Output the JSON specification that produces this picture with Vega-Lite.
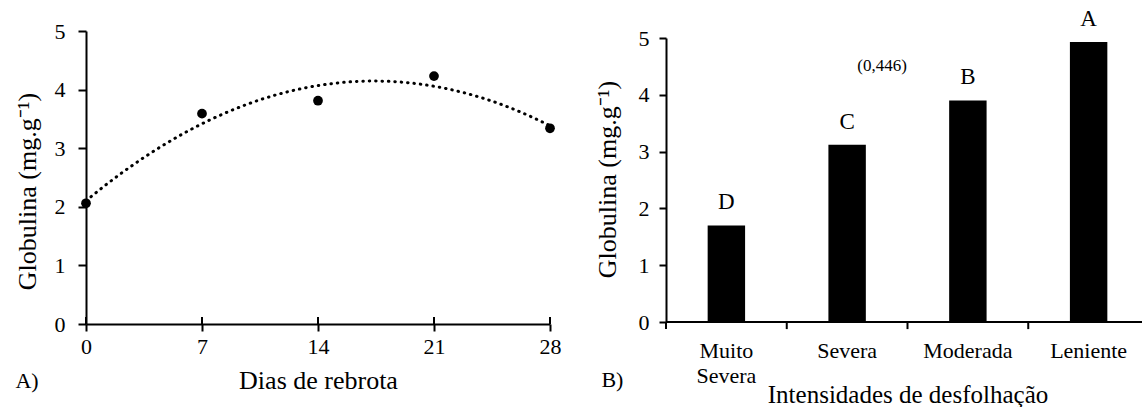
{
  "$schema": "https://vega.github.io/schema/vega-lite/v6.json",
  "background": "white",
  "padding": {"left": 14, "top": 7, "right": 0, "bottom": 0},
  "spacing": 116,
  "bounds": "flush",
  "config": {
    "font": "Liberation Serif",
    "view": {"stroke": null},
    "axis": {
      "domainColor": "black", "tickColor": "black", "labelColor": "black", "titleColor": "black",
      "grid": false, "labelFont": "Liberation Serif", "titleFont": "Liberation Serif",
      "titleFontWeight": "normal", "domainWidth": 2, "tickWidth": 2,
      "labelFontSize": 22, "titleFontSize": 26
    },
    "text": {"font": "Liberation Serif", "color": "black"}
  },
  "hconcat": [
    {
      "width": 464,
      "height": 293,
      "data": {"values": [
        {"dia": 0, "glob": 2.06},
        {"dia": 7, "glob": 3.59},
        {"dia": 14, "glob": 3.81},
        {"dia": 21, "glob": 4.23},
        {"dia": 28, "glob": 3.34}
      ]},
      "layer": [
        {
          "mark": {"type": "rule", "color": "black", "strokeWidth": 2},
          "encoding": {
            "x": {"field": "dia", "type": "quantitative"},
            "y": {"datum": 0},
            "y2": {"datum": 0.12}
          }
        },
        {
          "transform": [{"regression": "glob", "on": "dia", "method": "poly", "order": 2, "extent": [0, 28]}],
          "mark": {"type": "line", "color": "black", "strokeWidth": 3, "strokeDash": [0.5, 5.9], "strokeCap": "round"},
          "encoding": {
            "x": {"field": "dia", "type": "quantitative"},
            "y": {"field": "glob", "type": "quantitative"}
          }
        },
        {
          "mark": {"type": "point", "filled": true, "color": "black", "opacity": 1, "size": 95},
          "encoding": {
            "x": {
              "field": "dia", "type": "quantitative",
              "scale": {"domain": [0, 28], "nice": false, "zero": false},
              "axis": {"values": [0, 7, 14, 21, 28], "format": "d", "title": "Dias de rebrota", "tickSize": 7, "labelPadding": 5, "titlePadding": 10, "labelFlush": false}
            },
            "y": {
              "field": "glob", "type": "quantitative",
              "scale": {"domain": [0, 5], "nice": false},
              "axis": {"values": [0, 1, 2, 3, 4, 5], "format": "d", "title": "Globulina  (mg.g⁻¹)", "tickSize": 8, "labelPadding": 13, "titlePadding": 14, "titleY": 160}
            }
          }
        },
        {
          "data": {"values": [{"painel": "A)"}]},
          "mark": {"type": "text", "fontSize": 22, "dx": -59, "dy": 57, "baseline": "middle"},
          "encoding": {
            "text": {"field": "painel"},
            "x": {"datum": 0},
            "y": {"datum": 0}
          }
        }
      ]
    },
    {
      "width": 476,
      "height": 291,
      "data": {"values": [
        {"intensidade": "Muito Severa", "glob": 1.70, "letra": "D"},
        {"intensidade": "Severa", "glob": 3.12, "letra": "C"},
        {"intensidade": "Moderada", "glob": 3.90, "letra": "B"},
        {"intensidade": "Leniente", "glob": 4.93, "letra": "A"}
      ]},
      "layer": [
        {
          "mark": {"type": "rule", "color": "black", "strokeWidth": 2},
          "encoding": {
            "y": {"datum": 0}
          }
        },
        {
          "mark": {"type": "rule", "color": "black", "strokeWidth": 2},
          "encoding": {
            "x": {"field": "intensidade", "type": "nominal", "bandPosition": 0},
            "y": {"datum": 0},
            "y2": {"datum": -0.125}
          }
        },
        {
          "mark": {"type": "bar", "color": "black", "width": {"band": 0.31}},
          "encoding": {
            "x": {
              "field": "intensidade", "type": "nominal",
              "scale": {"domain": ["Muito Severa", "Severa", "Moderada", "Leniente"], "paddingInner": 0, "paddingOuter": 0, "range": [0, 483]},
              "axis": {
                "title": "Intensidades de desfolhação", "titleFontSize": 25, "labels": false, "domain": false, "ticks": true, "tickSize": 7, "tickOpacity": 0,
                "titlePadding": 53
              }
            },
            "y": {
              "field": "glob", "type": "quantitative",
              "scale": {"domain": [0, 5], "nice": false, "range": [291, 7]},
              "axis": {"values": [0, 1, 2, 3, 4, 5], "format": "d", "title": "Globulina (mg.g⁻¹)", "tickSize": 7, "labelPadding": 10, "titlePadding": 18, "titleY": 148}
            }
          }
        },
        {
          "mark": {"type": "text", "fontSize": 22, "baseline": "top", "lineBreak": " ", "lineHeight": 25, "dy": 19},
          "encoding": {
            "x": {"field": "intensidade", "type": "nominal"},
            "y": {"datum": 0},
            "text": {"field": "intensidade"}
          }
        },
        {
          "mark": {"type": "text", "fontSize": 23, "dy": -23, "baseline": "middle"},
          "encoding": {
            "x": {"field": "intensidade", "type": "nominal"},
            "y": {"field": "glob", "type": "quantitative"},
            "text": {"field": "letra"}
          }
        },
        {
          "data": {"values": [{"nota": "(0,446)"}]},
          "mark": {"type": "text", "fontSize": 17, "dx": 35, "baseline": "middle"},
          "encoding": {
            "x": {"datum": "Severa"},
            "y": {"datum": 4.5},
            "text": {"field": "nota"}
          }
        },
        {
          "data": {"values": [{"painel": "B)"}]},
          "mark": {"type": "text", "fontSize": 22, "dx": -114, "dy": 58, "baseline": "middle"},
          "encoding": {
            "x": {"datum": "Muito Severa"},
            "y": {"datum": 0},
            "text": {"field": "painel"}
          }
        }
      ]
    }
  ]
}
